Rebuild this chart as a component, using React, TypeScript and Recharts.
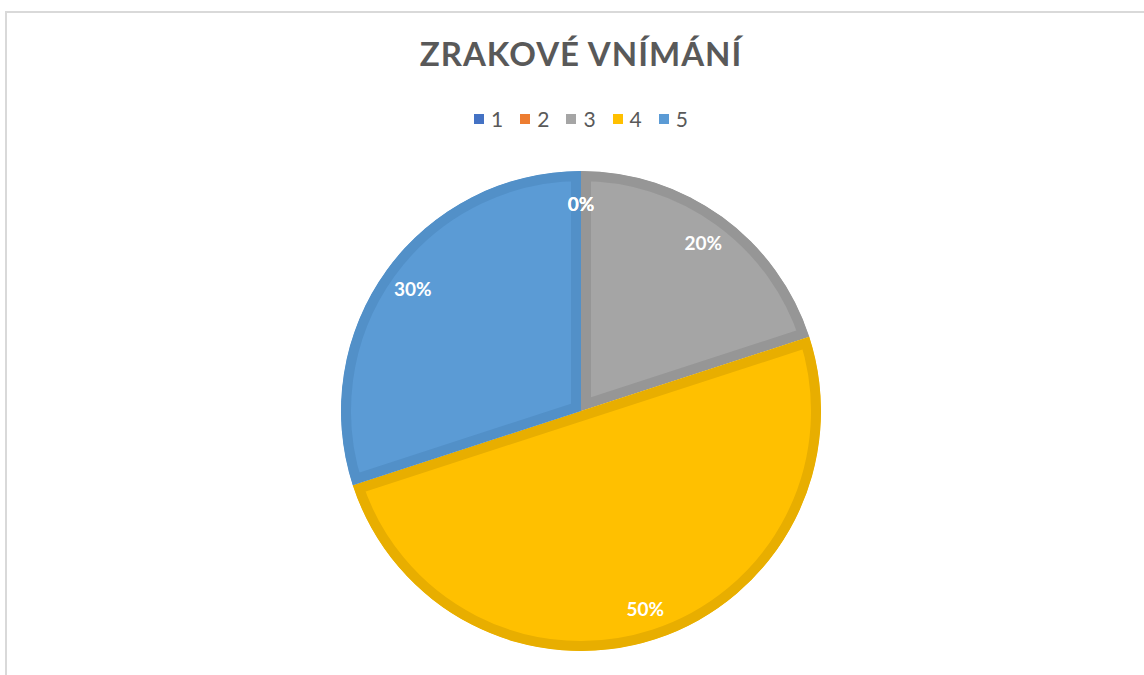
import { PieChart, Pie, Cell } from "recharts";

// ================= DATA =================
const categories = ["1", "2", "3", "4", "5"];
const shares = [0, 0, 20, 50, 30];
const fills = ["#4472C4", "#ED7D31", "#A5A5A5", "#FFC000", "#5B9BD5"];
const borders = ["#3d67b0", "#d5702c", "#969696", "#e8ae00", "#5290c8"];

const data = categories.map((name, i) => ({ name, value: shares[i] }));

const FONT = "Lato, 'Open Sans', 'Liberation Sans', sans-serif";
const RAD = Math.PI / 180;

// ================= SHAPE =================
// slice with its own darker border drawn on the inside (stroke clipped to the slice)
function sectorPath(cx: number, cy: number, r: number, a0: number, a1: number) {
  const x0 = cx + r * Math.cos(-a0 * RAD);
  const y0 = cy + r * Math.sin(-a0 * RAD);
  const x1 = cx + r * Math.cos(-a1 * RAD);
  const y1 = cy + r * Math.sin(-a1 * RAD);
  const large = Math.abs(a1 - a0) > 180 ? 1 : 0;
  const sweep = a0 > a1 ? 1 : 0;
  return `M${cx},${cy} L${x0},${y0} A${r},${r} 0 ${large} ${sweep} ${x1},${y1} Z`;
}

// eslint-disable-next-line
function InnerBorderSlice(props: any) {
  const { cx, cy, outerRadius, startAngle, endAngle, index } = props;
  if (Math.abs(endAngle - startAngle) < 0.001) return null;
  const d = sectorPath(cx, cy, outerRadius, startAngle, endAngle);
  const id = `slice-clip-${index}`;
  return (
    <g>
      <defs>
        <clipPath id={id}>
          <path d={d} />
        </clipPath>
      </defs>
      <path
        d={d}
        fill={fills[index]}
        stroke={borders[index]}
        strokeWidth={20}
        clipPath={`url(#${id})`}
      />
    </g>
  );
}

// ================= LABELS =================
// eslint-disable-next-line
function renderLabel({ cx, cy, midAngle, percent }: any) {
  const r = 208;
  const x = cx + r * Math.cos(-midAngle * RAD);
  const y = cy + r * Math.sin(-midAngle * RAD);
  return (
    <text
      x={x}
      y={y}
      textAnchor="middle"
      dominantBaseline="central"
      fill="#ffffff"
      fontFamily={FONT}
      fontWeight={700}
      fontSize={19}
    >
      {`${Math.round(percent * 100)}%`}
    </text>
  );
}

// ================= LEGEND =================
function LegendRow() {
  return (
    <div
      style={{
        position: "absolute",
        left: 0,
        top: 106,
        width: 1162,
        display: "flex",
        justifyContent: "center",
        gap: 17,
        fontFamily: FONT,
        fontSize: 21,
        color: "#595959",
      }}
    >
      {categories.map((c, i) => (
        <div key={c} style={{ display: "flex", alignItems: "center" }}>
          <span
            style={{
              width: 10,
              height: 10,
              background: fills[i],
              marginRight: 7,
              display: "inline-block",
            }}
          />
          <span>{c}</span>
        </div>
      ))}
    </div>
  );
}

export default function App() {
  return (
    <div
      style={{
        position: "fixed",
        left: 0,
        top: 0,
        width: 1144,
        height: 675,
        background: "#ffffff",
        overflow: "hidden",
      }}
    >
      <div
        style={{
          position: "absolute",
          left: 5,
          top: 11,
          width: 1139,
          height: 664,
          borderTop: "2px solid #d9d9d9",
          borderLeft: "2px solid #d9d9d9",
          boxSizing: "border-box",
        }}
      />
      <div
        style={{
          position: "absolute",
          left: 0,
          top: 33,
          width: 1162,
          textAlign: "center",
          fontFamily: FONT,
          fontWeight: 700,
          fontSize: 33,
          letterSpacing: 1,
          color: "#595959",
        }}
      >
        ZRAKOVÉ VNÍMÁNÍ
      </div>
      <LegendRow />
      <div style={{ position: "absolute", left: 0, top: 0 }}>
        <PieChart
          width={1144}
          height={675}
          margin={{ top: 0, right: 0, bottom: 0, left: 0 }}
        >
          <Pie
            data={data}
            dataKey="value"
            nameKey="name"
            cx={581}
            cy={411}
            outerRadius={240}
            startAngle={90}
            endAngle={-270}
            stroke="none"
            label={renderLabel}
            labelLine={false}
            shape={InnerBorderSlice}
            isAnimationActive={false}
          >
            {data.map((d, i) => (
              <Cell key={d.name} fill={fills[i]} />
            ))}
          </Pie>
        </PieChart>
      </div>
    </div>
  );
}
